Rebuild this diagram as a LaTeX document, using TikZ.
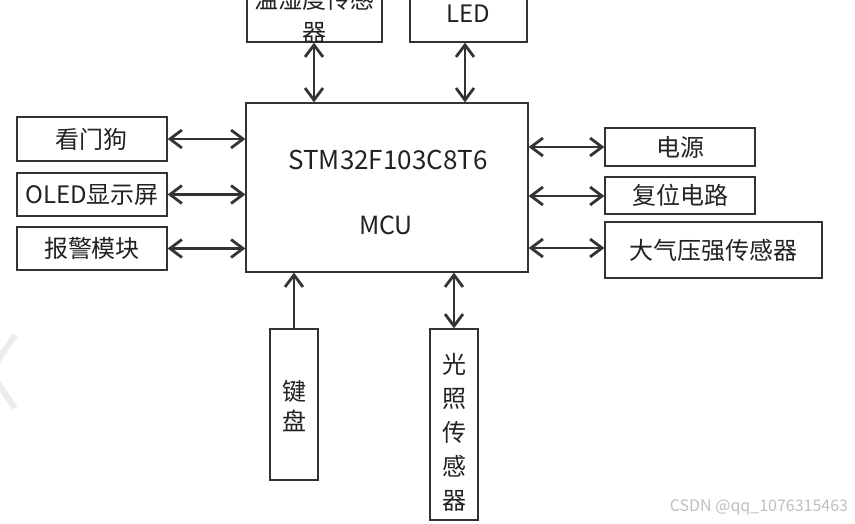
\documentclass[tikz,border=0pt]{standalone}
\usepackage{fontspec}
\setmainfont{Noto Sans CJK SC}
\usetikzlibrary{arrows.meta}
\definecolor{ink}{HTML}{222222}
\definecolor{edge}{HTML}{333333}
\begin{document}
\begin{tikzpicture}[x=1pt,y=-1pt,
  box/.style={draw=edge, line width=1.2pt, inner sep=0pt, text=ink, font=\fontsize{24}{28}\selectfont},
  txt/.style={inner sep=0pt, text=ink, font=\fontsize{24}{28}\selectfont},
  conn/.style={draw=edge, line width=2.8pt, {Straight Barb[length=12pt,width=18pt]}-{Straight Barb[length=12pt,width=18pt]}},
  conn1/.style={draw=edge, line width=2.8pt, -{Straight Barb[length=12pt,width=18pt]}}]
\useasboundingbox (0,0) rectangle (855,524);
\clip (0,0) rectangle (855,524);
\fill[white] (0,0) rectangle (855,524);
% faint watermark stroke
\draw[gray!15, line width=6pt] (15,335) -- (-10,372) -- (15,408);
% MCU
\node[box, minimum width=282pt, minimum height=169pt] (mcu) at (387,187.5) {};
\node[txt, font=\fontsize{26}{30}\selectfont] (stm) at (388,160) {STM32F103C8T6};
\node[txt, font=\fontsize{25}{30}\selectfont] (mcut) at (386,225) {MCU};
% top boxes
\node[box, minimum width=135pt, minimum height=64pt] (th) at (314.5,10) {};
\node[txt, align=center, font=\fontsize{24}{33}\selectfont] (thl) at (314.5,15.5) {温湿度传感\\器};
\node[box, minimum width=117pt, minimum height=64pt] (led) at (468.5,10) {};
\node[txt] (ledl) at (468.5,14) {LED};
% left boxes
\node[box, minimum width=150pt, minimum height=44pt] (wd) at (92,139) {看门狗};
\node[box, minimum width=150pt, minimum height=43pt] (oled) at (92,194.5) {OLED显示屏};
\node[box, minimum width=150pt, minimum height=43pt] (alarm) at (92,248.5) {报警模块};
% right boxes
\node[box, minimum width=150pt, minimum height=38pt] (pwr) at (680,147) {电源};
\node[box, minimum width=150pt, minimum height=37pt] (rst) at (680,195.5) {复位电路};
\node[box, minimum width=217pt, minimum height=56pt] (baro) at (713.5,250) {大气压强传感器};
% bottom boxes
\node[box, minimum width=48pt, minimum height=151pt] (kb) at (294,404.5) {};
\node[txt, align=center, font=\fontsize{24}{30}\selectfont] (kbl) at (294,406) {键\\盘};
\node[box, minimum width=48pt, minimum height=191pt] (light) at (454,424.5) {};
\node[txt, align=center, font=\fontsize{24}{34}\selectfont] (lightl) at (454,432) {光\\照\\传\\感\\器};
% connectors
\draw[conn] (th.south -| 314,0) -- (314,0 |- mcu.north);
\draw[conn] (465,0 |- led.south) -- (465,0 |- mcu.north);
\draw[conn] (wd.east) -- (wd.east -| mcu.west);
\draw[conn] (oled.east) -- (oled.east -| mcu.west);
\draw[conn] (alarm.east) -- (alarm.east -| mcu.west);
\draw[conn] (mcu.east |- pwr.west) -- (pwr.west);
\draw[conn] (mcu.east |- 0,196) -- (rst.west |- 0,196);
\draw[conn] (mcu.east |- 0,248) -- (baro.west |- 0,248);
\draw[conn1] (kb.north) -- (kb.north |- mcu.south);
\draw[conn] (light.north) -- (light.north |- mcu.south);
% watermark text
\node[inner sep=0pt, text=gray!50, font=\fontsize{16}{18}\selectfont] (wm) at (759,507) {CSDN @qq\_1076315463};
\end{tikzpicture}
\end{document}
